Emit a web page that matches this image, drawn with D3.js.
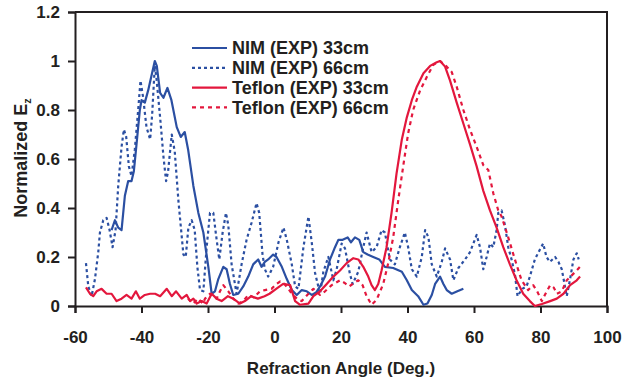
<!DOCTYPE html>
<html>
<head>
<meta charset="utf-8">
<script src="https://cdn.jsdelivr.net/npm/d3@7"></script>
<style>
    html, body { margin: 0; padding: 0; background: #fff; }
    #chart-svg { display: block; }
    .axis text { font-family: 'Liberation Sans', Arial, sans-serif; font-weight: bold; font-size: 17px; fill: #231f20; }
    .axis path, .axis line { stroke: #231f20; stroke-width: 2; }
    .title { font-family: 'Liberation Sans', Arial, sans-serif; font-weight: bold; fill: #231f20; }
    .legend text { font-family: 'Liberation Sans', Arial, sans-serif; font-weight: bold; font-size: 18px; fill: #231f20; }
</style>
</head>
<body>
<svg id="chart-svg" width="625" height="381"></svg>
<script>
// Values: [angle (deg), normalized Ez]
const nim33 = [
    [-49, 0.31], [-48, 0.35], [-47, 0.32], [-46, 0.31], [-45, 0.45], [-44, 0.51], [-43, 0.51], [-42.3, 0.55],
    [-41.5, 0.66], [-40.5, 0.8], [-40, 0.84], [-39, 0.83], [-38, 0.88], [-37, 0.94], [-36, 1.0], [-35.4, 0.98],
    [-34.4, 0.87], [-33.4, 0.85], [-32.2, 0.89], [-31, 0.84], [-29.4, 0.73], [-28.2, 0.69], [-27, 0.71], [-26, 0.64],
    [-24.4, 0.49], [-22.9, 0.38], [-21.4, 0.3], [-19.9, 0.16], [-18.9, 0.05], [-17.9, 0.06], [-16.9, 0.11], [-15.4, 0.16],
    [-14.4, 0.15], [-13.4, 0.09], [-12.4, 0.045], [-10.9, 0.05], [-9.4, 0.08], [-7.9, 0.12], [-6.4, 0.17], [-4.9, 0.19],
    [-3.9, 0.16], [-2.9, 0.18], [-1.9, 0.19], [-0.4, 0.21], [0.6, 0.2], [2.2, 0.16], [3.7, 0.11], [5.2, 0.065],
    [6.7, 0.045], [8.2, 0.065], [9.7, 0.06], [11.2, 0.045], [12.5, 0.055], [13.7, 0.08], [15.2, 0.12], [16.7, 0.19],
    [18.2, 0.24], [19.2, 0.27], [20.5, 0.27], [22, 0.28], [23, 0.26], [24.2, 0.28], [25.5, 0.27], [26.7, 0.22],
    [28, 0.21], [29.7, 0.2], [31.5, 0.19], [33.2, 0.16], [35.7, 0.155], [38.3, 0.14], [39.8, 0.105], [41.3, 0.065],
    [43.2, 0.04], [44.8, 0.005], [46, 0.01], [47.3, 0.045], [48.3, 0.09], [49.8, 0.12], [50.8, 0.09], [51.8, 0.065],
    [53.3, 0.05], [55, 0.06], [56.8, 0.07]
];

const nim66 = [
    [-56.7, 0.175], [-56, 0.08], [-55, 0.04], [-54, 0.11], [-53, 0.22], [-52.5, 0.3], [-51.5, 0.35], [-50.5, 0.36],
    [-49.6, 0.31], [-48.7, 0.24], [-47.8, 0.31], [-47, 0.49], [-46, 0.65], [-45.3, 0.72], [-44.6, 0.69], [-43.8, 0.57],
    [-43, 0.53], [-42, 0.64], [-41, 0.8], [-40.3, 0.92], [-39.5, 0.85], [-38.5, 0.73], [-37.4, 0.68], [-36.8, 0.78],
    [-36, 0.98], [-35.5, 0.93], [-34.4, 0.77], [-33.4, 0.61], [-32.6, 0.51], [-32, 0.55], [-30.9, 0.7], [-30, 0.63],
    [-28.9, 0.43], [-27.4, 0.21], [-26.7, 0.2], [-25.9, 0.32], [-24.9, 0.35], [-24, 0.31], [-23.2, 0.16], [-22.4, 0.065],
    [-21.4, 0.06], [-20.4, 0.24], [-19.4, 0.38], [-18.4, 0.38], [-17.4, 0.27], [-16.6, 0.19], [-15.6, 0.3], [-14.6, 0.38],
    [-13.9, 0.33], [-12.9, 0.17], [-11.4, 0.05], [-9.9, 0.17], [-8.4, 0.27], [-6.9, 0.34], [-5.4, 0.42], [-4.6, 0.38],
    [-3.6, 0.21], [-2.9, 0.15], [-1.9, 0.12], [-0.4, 0.16], [1.2, 0.26], [2.7, 0.32], [3.7, 0.27], [5.2, 0.17],
    [6.2, 0.08], [7.2, 0.07], [8.7, 0.24], [10.2, 0.365], [11.2, 0.26], [12.2, 0.135], [13.7, 0.05], [14.7, 0.14],
    [16.2, 0.2], [17.7, 0.105], [18.7, 0.15], [20.2, 0.255], [21.2, 0.235], [22.7, 0.13], [23.5, 0.09], [25.2, 0.14],
    [26.7, 0.24], [27.7, 0.3], [29.2, 0.22], [30.7, 0.24], [32.2, 0.31], [33.2, 0.3], [34.7, 0.19], [36.2, 0.17],
    [37.7, 0.24], [39.2, 0.3], [40.2, 0.24], [41.3, 0.15], [42.8, 0.12], [44.3, 0.2], [45.3, 0.31], [46.3, 0.28],
    [47.3, 0.17], [48.8, 0.12], [50.3, 0.18], [51.3, 0.235], [52.8, 0.19], [53.8, 0.105], [55.3, 0.155], [57.3, 0.19],
    [58.8, 0.22], [60.8, 0.29], [61.8, 0.24], [62.8, 0.15], [63.8, 0.2], [64.8, 0.255], [65.8, 0.24], [66.8, 0.31],
    [67.3, 0.38], [68.3, 0.39], [69.3, 0.33], [70.3, 0.24], [71.3, 0.19], [72.3, 0.13], [73.1, 0.04], [74.5, 0.07],
    [75.8, 0.08], [76.8, 0.12], [78.3, 0.19], [79.8, 0.23], [80.8, 0.255], [81.8, 0.2], [82.8, 0.18], [84.4, 0.2],
    [85.4, 0.18], [86.4, 0.15], [87.9, 0.04], [88.9, 0.11], [89.9, 0.19], [90.9, 0.215], [91.5, 0.19]
];

const teflon33 = [
    [-56.7, 0.076], [-55.5, 0.05], [-54.5, 0.04], [-53.5, 0.06], [-52, 0.07], [-50.5, 0.05], [-49, 0.05], [-47.5, 0.02],
    [-46, 0.03], [-44.5, 0.045], [-43, 0.03], [-41.7, 0.06], [-40.5, 0.03], [-39, 0.045], [-37.4, 0.05], [-35.9, 0.05],
    [-34.4, 0.04], [-32.4, 0.07], [-30.9, 0.04], [-29.6, 0.06], [-27.9, 0.03], [-26.4, 0.045], [-25.4, 0.02], [-24.4, 0.03],
    [-23.4, 0.01], [-21.9, 0.02], [-20.4, 0.01], [-18.9, 0.05], [-17.4, 0.03], [-15.9, 0.02], [-14, 0.04], [-12.4, 0.03],
    [-10.4, 0.01], [-8.9, 0.02], [-7, 0.04], [-5, 0.03], [-3, 0.04], [-1.5, 0.05], [0.5, 0.07], [2.6, 0.09],
    [4.7, 0.085], [6.2, 0.02], [7.7, 0.005], [10.2, 0.01], [11.7, 0.04], [13.7, 0.06], [15.7, 0.09], [17.7, 0.12],
    [19.7, 0.145], [21.7, 0.175], [23.7, 0.195], [25.2, 0.19], [26.7, 0.16], [28.2, 0.12], [29.2, 0.085], [30.2, 0.065],
    [31.2, 0.09], [32.2, 0.145], [33.7, 0.24], [35.2, 0.38], [36.7, 0.54], [38.3, 0.68], [39.8, 0.77], [41.3, 0.84],
    [42.8, 0.895], [44.8, 0.95], [46.8, 0.98], [48.8, 0.995], [49.8, 1.0], [51.3, 0.977], [52.8, 0.92], [54.8, 0.83],
    [56.8, 0.745], [58.8, 0.66], [60.8, 0.57], [62.8, 0.47], [64.8, 0.39], [66.8, 0.32], [68.8, 0.24], [70.8, 0.17],
    [72.8, 0.105], [74.8, 0.05], [76.8, 0.02], [78.3, 0.0], [80.4, 0.008], [82.9, 0.02], [84.9, 0.03], [86.9, 0.05],
    [88.9, 0.085], [90.9, 0.105], [91.9, 0.12]
];

const teflon66 = [
    [-26, 0.03], [-24.5, 0.01], [-23, 0.03], [-21.5, 0.01], [-20.9, 0.03], [-19.4, 0.05], [-18.4, 0.04], [-17.4, 0.03],
    [-16.4, 0.06], [-15.4, 0.085], [-13.9, 0.06], [-12.4, 0.03], [-10.9, 0.01], [-9.4, 0.02], [-7.9, 0.045], [-6.2, 0.035],
    [-4.4, 0.06], [-2.9, 0.065], [-0.9, 0.07], [0.6, 0.09], [1.7, 0.1], [3, 0.09], [4.2, 0.07], [5.2, 0.05],
    [6.7, 0.03], [8.2, 0.02], [10.2, 0.05], [11.7, 0.07], [13.7, 0.045], [15.2, 0.06], [17.2, 0.085], [19.7, 0.105],
    [21, 0.095], [22.5, 0.08], [24, 0.095], [25.2, 0.105], [26.5, 0.085], [27.7, 0.04], [29.2, 0.005], [30.7, 0.025],
    [32.7, 0.09], [34.2, 0.175], [35.7, 0.28], [37.2, 0.43], [38.7, 0.57], [40.2, 0.705], [41.7, 0.8], [43.8, 0.88],
    [45.8, 0.935], [47.8, 0.985], [49.8, 1.0], [51.8, 0.977], [53.3, 0.955], [54.8, 0.895], [56.8, 0.8], [58.8, 0.72],
    [60.8, 0.65], [62.8, 0.575], [64.3, 0.555], [65.8, 0.46], [67.3, 0.39], [68.3, 0.365], [70.3, 0.28], [72.3, 0.19],
    [74.3, 0.105], [76.3, 0.065], [77.8, 0.085], [79, 0.06], [80.4, 0.02], [81.5, 0.05], [82.9, 0.085], [84, 0.075],
    [84.9, 0.05], [86.4, 0.06], [87.9, 0.105], [89.4, 0.125], [90.9, 0.145], [91.9, 0.16]
];

const seriesNames = ['NIM (EXP) 33cm', 'NIM (EXP) 66cm', 'Teflon (EXP) 33cm', 'Teflon (EXP) 66cm'];
const xTicks = [-60, -40, -20, 0, 20, 40, 60, 80, 100];
const yTicks = [0, 0.2, 0.4, 0.6, 0.8, 1, 1.2];

const BLUE = '#2b4fa2';
const RED = '#e3173d';

// style per series (same order as names)
const seriesStyle = [
    { data: nim33, color: BLUE, dash: null },
    { data: nim66, color: BLUE, dash: '3,3' },
    { data: teflon33, color: RED, dash: null },
    { data: teflon66, color: RED, dash: '4,4' },
];

const svg = d3.select('#chart-svg');
const plot = { left: 75, right: 607, top: 12, bottom: 306 };

const x = d3.scaleLinear().domain([-60, 100]).range([plot.left, plot.right]);
const y = d3.scaleLinear().domain([0, 1.2]).range([plot.bottom, plot.top]);

// frame (top + right side, axes draw the other two)
svg.append('path')
    .attr('d', `M${plot.left},${plot.top}H${plot.right}V${plot.bottom}`)
    .attr('fill', 'none')
    .attr('stroke', '#231f20')
    .attr('stroke-width', 2);

svg.append('g')
    .attr('class', 'axis')
    .attr('transform', `translate(0,${plot.bottom})`)
    .call(d3.axisBottom(x).tickValues(xTicks).tickFormat((d) => String(d)).tickSizeOuter(0).tickSize(7).tickPadding(18));

svg.append('g')
    .attr('class', 'axis')
    .attr('transform', `translate(${plot.left},0)`)
    .call(d3.axisLeft(y).tickValues(yTicks).tickFormat((d) => String(d)).tickSizeOuter(0).tickSize(7).tickPadding(8));

// curves
const line = d3
    .line()
    .x((d) => x(d[0]))
    .y((d) => y(d[1]))
    .curve(d3.curveLinear);

svg.append('g')
    .selectAll('path')
    .data(seriesStyle)
    .join('path')
    .attr('d', (s) => line(s.data))
    .attr('fill', 'none')
    .attr('stroke', (s) => s.color)
    .attr('stroke-width', 2.2)
    .attr('stroke-linejoin', 'round')
    .attr('stroke-dasharray', (s) => s.dash);

// axis titles
svg.append('text')
    .attr('class', 'title')
    .attr('x', x(20))
    .attr('y', 374)
    .attr('text-anchor', 'middle')
    .style('font-size', '17px')
    .text('Refraction Angle (Deg.)');

const yTitle = svg.append('text')
    .attr('class', 'title')
    .attr('transform', 'translate(27,158) rotate(-90)')
    .attr('text-anchor', 'middle')
    .style('font-size', '18px');
yTitle.append('tspan').text('Normalized E');
yTitle.append('tspan').attr('dy', 4).style('font-size', '11px').text('z');

// legend
const legend = svg.append('g').attr('class', 'legend').attr('transform', 'translate(192,48)');
const rows = legend
    .selectAll('g')
    .data(seriesStyle)
    .join('g')
    .attr('transform', (d, i) => `translate(0,${i * 19.8})`);

rows.append('line')
    .attr('x1', 0)
    .attr('x2', 35)
    .attr('stroke', (s) => s.color)
    .attr('stroke-width', 2.2)
    .attr('stroke-dasharray', (s) => s.dash);

rows.append('text')
    .attr('x', 40)
    .attr('dy', '0.36em')
    .text((d, i) => seriesNames[i]);
</script>
</body>
</html>
